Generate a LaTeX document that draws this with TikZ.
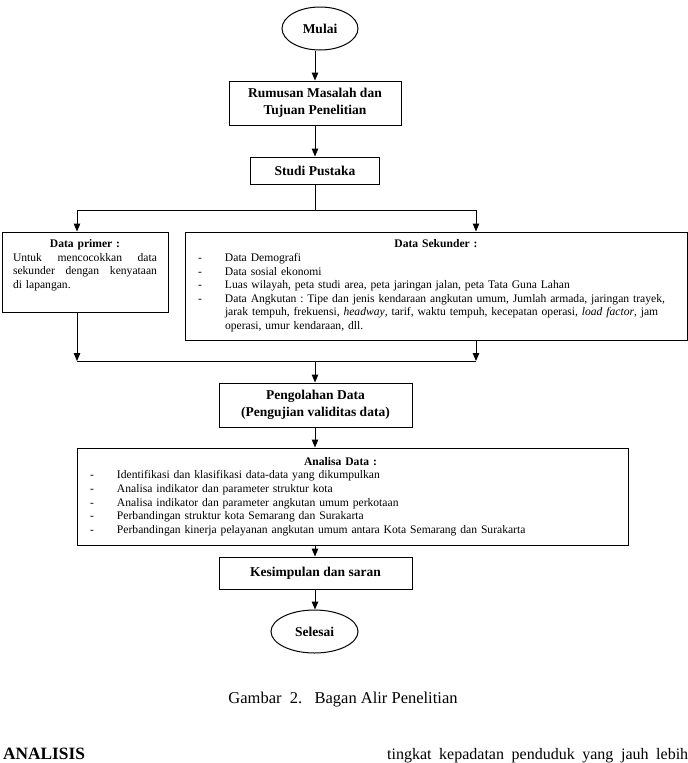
\documentclass[tikz,border=0pt]{standalone}
\usepackage{fontspec}
\setmainfont{Liberation Serif}
\usetikzlibrary{shapes.geometric,arrows.meta}
\frenchspacing
\newcommand\ditem[1]{\par\noindent\hangindent=27pt\hangafter=1\makebox[27pt][l]{-}#1}
\begin{document}
\begin{tikzpicture}[x=1pt,y=-1pt,
  box/.style={draw,line width=1pt,rectangle,inner sep=0pt},
  oval/.style={draw,line width=1pt,ellipse,inner sep=0pt,font=\fontsize{13.5}{15}\selectfont\bfseries},
  ttl/.style={font=\fontsize{13.5}{16.5}\selectfont\bfseries,align=center},
  body/.style={font=\fontsize{11.6}{13.6}\selectfont},
  arr/.style={line width=1pt,-{Triangle[length=8pt,width=6.5pt]}},
  ln/.style={line width=1pt}]
\useasboundingbox (0,0) rectangle (688,763);

\node[oval,minimum width=76pt,minimum height=43pt] (mulai) at (320,28.5) {Mulai};
\node[box,ttl,minimum width=172pt,minimum height=44pt] (rum) at (315,103) {Rumusan Masalah dan\\Tujuan Penelitian};
\node[box,ttl,minimum width=129pt,minimum height=27pt] (studi) at (315,170.5) {Studi Pustaka};

\node[box,minimum width=166pt,minimum height=80pt] (primer) at (85,272) {};
\node[body,text width=144pt,anchor=north,inner sep=0pt] (primertxt) at (85,239.5)
 {{\centering\bfseries Data primer :\par}\noindent\hbox to 144pt{Untuk\hfill mencocokkan\hfill data}\par\noindent\hbox to 144pt{sekunder\hfill dengan\hfill kenyataan}\par\noindent di lapangan.\par};

\node[box,body,minimum width=502pt,minimum height=108pt,text width=476pt] (sek) at (436,286)
 {{\centering\bfseries Data Sekunder :\par}\raggedright
  \ditem{Data Demografi}
  \ditem{Data sosial ekonomi}
  \ditem{Luas wilayah, peta studi area, peta jaringan jalan, peta Tata Guna Lahan}
  \ditem{Data Angkutan : Tipe dan jenis kendaraan angkutan umum, Jumlah armada, jaringan trayek,\newline jarak tempuh, frekuensi, \textit{headway}, tarif, waktu tempuh, kecepatan operasi, \textit{load factor}, jam\newline operasi, umur kendaraan, dll.}\par};

\node[box,ttl,minimum width=193pt,minimum height=44pt] (peng) at (315.5,405) {Pengolahan Data\\(Pengujian validitas data)};

\node[box,body,minimum width=551pt,minimum height=97pt,text width=525pt] (ana) at (352.5,496.5)
 {{\centering\bfseries\hspace*{-24pt}Analisa Data :\par}\raggedright
  \ditem{Identifikasi dan klasifikasi data-data yang dikumpulkan}
  \ditem{Analisa indikator dan parameter struktur kota}
  \ditem{Analisa indikator dan parameter angkutan umum perkotaan}
  \ditem{Perbandingan struktur kota Semarang dan Surakarta}
  \ditem{Perbandingan kinerja pelayanan angkutan umum antara Kota Semarang dan Surakarta}\par};

\node[box,ttl,minimum width=193pt,minimum height=32pt] (kes) at (315.5,573) {Kesimpulan dan saran};
\node[oval,minimum width=87pt,minimum height=43pt] (sel) at (314.5,631.5) {Selesai};

\coordinate (split) at (315,210);
\coordinate (joinL) at (77,361);
\coordinate (joinR) at (476,361);
\coordinate (join) at (315,361);

\draw[arr] (mulai.south -| rum.north) -- (rum.north);
\draw[arr] (rum) -- (studi);
\draw[ln] (studi.south) -- (split);
\draw[ln] (split -| joinL) -- (split -| joinR);
\draw[arr] (split -| joinL) -- (primer.north -| joinL);
\draw[arr] (split -| joinR) -- (sek.north -| joinR);
\draw[arr] (primer.south -| joinL) -- (joinL);
\draw[arr] (sek.south -| joinR) -- (joinR);
\draw[ln] (joinL) -- (joinR);
\draw[arr] (join) -- (peng.north -| join);
\draw[arr] (peng.south -| join) -- (ana.north -| join);
\draw[arr] (ana.south -| join) -- (kes.north -| join);
\draw[arr] (kes.south -| join) -- (sel.north -| join);

\node[font=\fontsize{16.5}{18}\selectfont] (cap) at (343,700) {Gambar\ \ 2.\ \ \ Bagan Alir Penelitian};
\node[font=\fontsize{17.3}{19}\selectfont\bfseries,anchor=base west,inner sep=0pt] (anl) at (3,759) {ANALISIS};
\node[font=\fontsize{16}{19}\selectfont,anchor=base west,inner sep=0pt] (ting) at (387,759) {\makebox[301pt][s]{tingkat kepadatan penduduk yang jauh lebih}};
\end{tikzpicture}
\end{document}
